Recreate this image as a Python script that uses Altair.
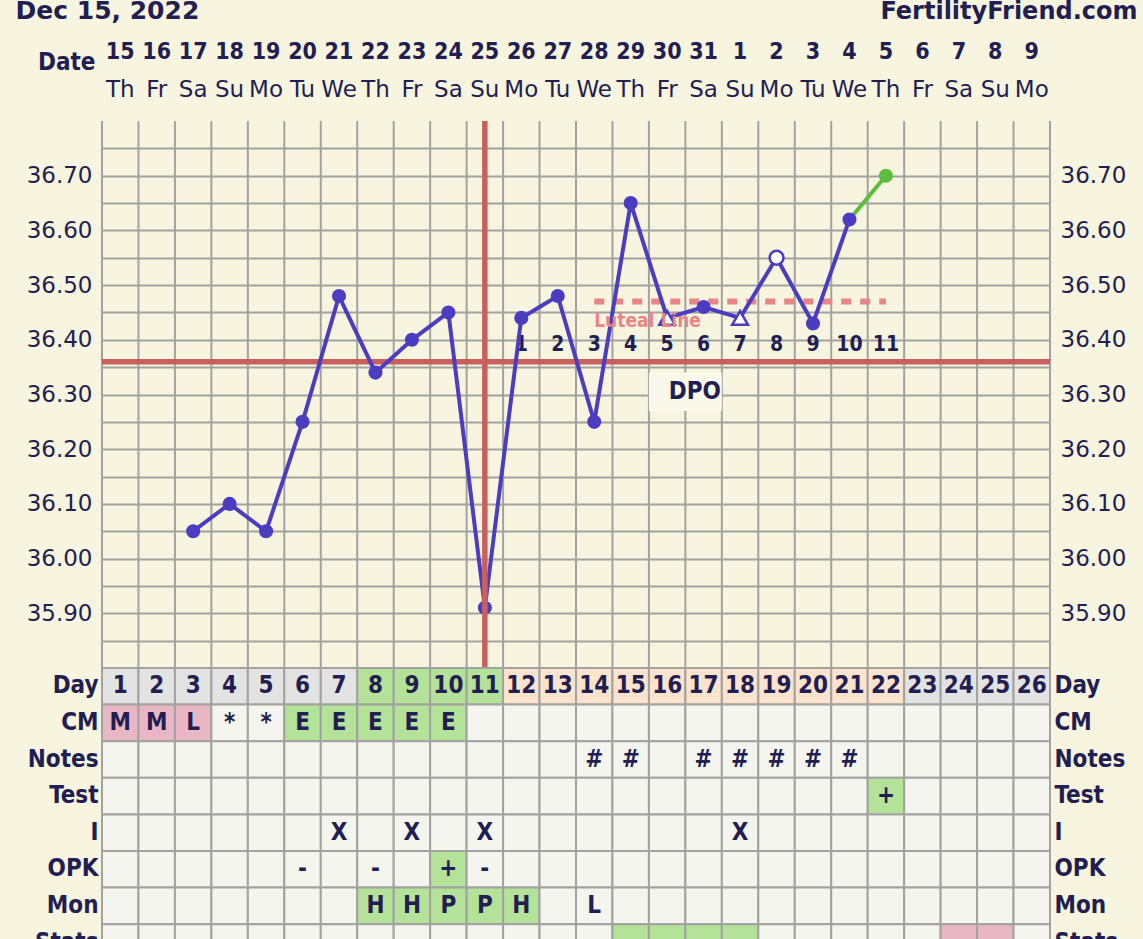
import altair as alt
import pandas as pd

# ---- palette and fonts -------------------------------------------------
NAVY = "#221E52"
BG = "#F7F5DF"
GRID = "#A2A2A0"
BLUE = "#4A3DC2"
GREEN_PT = "#5CBF3C"
RED = "#C9605E"
PINK_LINE = "#EA8585"
BOLD_FONT = "DejaVu Sans Condensed"
REG_FONT = "DejaVu Sans"

# plot area (temperature grid) size and table row height
W, H = 948, 547
ROW_H = 36.6

# ---- calendar ----------------------------------------------------------
cycle_days = list(range(1, 27))
date_numbers = [15, 16, 17, 18, 19, 20, 21, 22, 23, 24, 25, 26, 27, 28, 29,
                30, 31, 1, 2, 3, 4, 5, 6, 7, 8, 9]
weekdays = ["Th", "Fr", "Sa", "Su", "Mo", "Tu", "We", "Th", "Fr", "Sa", "Su",
            "Mo", "Tu", "We", "Th", "Fr", "Sa", "Su", "Mo", "Tu", "We", "Th",
            "Fr", "Sa", "Su", "Mo"]

# ---- temperatures ------------------------------------------------------
temp_days = list(range(3, 23))
temps = [36.05, 36.10, 36.05, 36.25, 36.48, 36.34, 36.40, 36.45, 35.91, 36.44,
         36.48, 36.25, 36.65, 36.44, 36.46, 36.44, 36.55, 36.43, 36.62, 36.70]
temp_kind = ["dot"] * 13 + ["tri", "dot", "tri", "open", "dot", "dot", "today"]

coverline = 36.36
ovulation_day = 11
luteal_level = 36.47
luteal_span = (14, 22)
dpo_days = list(range(12, 23))
dpo_numbers = list(range(1, 12))
fertile_days = [8, 9, 10, 11]

# ---- chart table -------------------------------------------------------
row_names = ["Day", "CM", "Notes", "Test", "I", "OPK", "Mon", "Stats"]
cm_days = [1, 2, 3, 4, 5, 6, 7, 8, 9, 10]
cm_codes = ["M", "M", "L", "*", "*", "E", "E", "E", "E", "E"]
notes_days = [14, 15, 17, 18, 19, 20, 21]
test_days = [22]
test_results = ["+"]
intercourse_days = [7, 9, 11, 18]
opk_days = [6, 8, 10, 11]
opk_results = ["-", "-", "+", "-"]
mon_days = [8, 9, 10, 11, 12, 14]
mon_readings = ["H", "H", "P", "P", "H", "L"]
stats_green_days = [15, 16, 17, 18]
stats_pink_days = [24, 25]

cm_fill = {"M": "pink", "L": "pink", "E": "green"}
result_fill = {"+": "green"}
mon_fill = {"H": "green", "P": "green"}

cells = []
for d in cycle_days:
    if d in fertile_days:
        phase = "green"
    elif d in dpo_days:
        phase = "peach"
    else:
        phase = "gray"
    cells.append({"day": d, "row": "Day", "fill": phase, "label": str(d)})
    cm = dict(zip(cm_days, cm_codes)).get(d, "")
    cells.append({"day": d, "row": "CM", "fill": cm_fill.get(cm, "blank"), "label": cm})
    cells.append({"day": d, "row": "Notes", "fill": "blank",
                  "label": "#" if d in notes_days else ""})
    t = dict(zip(test_days, test_results)).get(d, "")
    cells.append({"day": d, "row": "Test", "fill": result_fill.get(t, "blank"), "label": t})
    cells.append({"day": d, "row": "I", "fill": "blank",
                  "label": "X" if d in intercourse_days else ""})
    o = dict(zip(opk_days, opk_results)).get(d, "")
    cells.append({"day": d, "row": "OPK", "fill": result_fill.get(o, "blank"), "label": o})
    m = dict(zip(mon_days, mon_readings)).get(d, "")
    cells.append({"day": d, "row": "Mon", "fill": mon_fill.get(m, "blank"), "label": m})
    s = "green" if d in stats_green_days else ("pink" if d in stats_pink_days else "blank")
    cells.append({"day": d, "row": "Stats", "fill": s, "label": ""})
cells_df = pd.DataFrame(cells)

temp_df = pd.DataFrame({"day": temp_days, "temp": temps, "kind": temp_kind})
header_df = pd.DataFrame({"day": cycle_days, "date": date_numbers, "wd": weekdays})
dpo_df = pd.DataFrame({"day": dpo_days, "dpo": dpo_numbers, "cover": coverline})

# ---- scales ------------------------------------------------------------
x_scale = alt.Scale(domain=[0.5, len(cycle_days) + 0.5], nice=False, zero=False)
y_scale = alt.Scale(domain=[35.8, 36.8], nice=False, zero=False)
table_y = alt.Scale(domain=row_names, range=[H, H + ROW_H * len(row_names)],
                    paddingInner=0, paddingOuter=0)
header_y = alt.Scale(domain=["date", "wd"], range=[-88, -12],
                     paddingInner=0, paddingOuter=0)
fill_scale = alt.Scale(domain=["blank", "gray", "green", "peach", "pink"],
                       range=["#F5F5F0", "#E3E3E3", "#B3E298", "#FBE3CD", "#E9B6C6"])

grid_vals = [round(35.85 + 0.05 * i, 2) for i in range(19)]
col_edges = [d - 0.5 for d in cycle_days] + [len(cycle_days) + 0.5]
temp_label = ("abs(datum.value*10 - round(datum.value*10)) < 0.001 && "
              "datum.value > 35.86 && datum.value < 36.74 ? format(datum.value, '.2f') : ''")


def temp_axis(orient, grid):
    return alt.Axis(orient=orient, values=grid_vals, labelExpr=temp_label,
                    grid=grid, gridColor=GRID, gridWidth=2, ticks=False, tickSize=0,
                    domain=False, labelFont=REG_FONT, labelFontSize=23,
                    labelColor=NAVY, labelPadding=10, labelOverlap=False,
                    labelFlush=False, title=None)


def row_axis(orient):
    return alt.Axis(orient=orient, ticks=False, tickSize=0, domain=False,
                    labelFont=BOLD_FONT, labelFontWeight="bold", labelFontSize=24,
                    labelColor=NAVY, labelPadding=4, title=None)


# ---- temperature panel -------------------------------------------------
tbase = alt.Chart(temp_df)

# vertical day columns of the grid
col_rules = alt.Chart(pd.DataFrame({"edge": col_edges})).mark_rule(
    color=GRID, strokeWidth=2).encode(
    x=alt.X("edge:Q", scale=x_scale, axis=None))

dpo_box = alt.Chart(pd.DataFrame({"a": [15.5], "b": [17.5], "t1": [36.34], "t2": [36.27]})).mark_rect(
    color="#F9F8EA").encode(
    x=alt.X("a:Q", scale=x_scale, axis=None), x2="b:Q",
    y=alt.Y("t1:Q", scale=y_scale, axis=None), y2="t2:Q")

cover_rule = alt.Chart(pd.DataFrame({"t": [coverline]})).mark_rule(
    color=RED, strokeWidth=5.5).encode(
    y=alt.Y("t:Q", scale=y_scale, axis=temp_axis("left", True)))

luteal_rule = alt.Chart(pd.DataFrame({"a": [luteal_span[0]], "b": [luteal_span[1]],
                                      "t": [luteal_level]})).mark_rule(
    color=PINK_LINE, strokeWidth=6, strokeDash=[10, 9]).encode(
    x=alt.X("a:Q", scale=x_scale, axis=None), x2="b:Q",
    y=alt.Y("t:Q", scale=y_scale, axis=None))

dpo_text = alt.Chart(dpo_df).mark_text(
    font=BOLD_FONT, fontWeight="bold", fontSize=21, color=NAVY,
    baseline="alphabetic", dy=-11).encode(
    x=alt.X("day:Q", scale=x_scale, axis=None),
    y=alt.Y("cover:Q", scale=y_scale, axis=None),
    text="dpo:N")

dpo_label = alt.Chart(pd.DataFrame({"a": [17.5], "t": [36.305], "s": ["DPO"]})).mark_text(
    font=BOLD_FONT, fontWeight="bold", fontSize=24, color=NAVY,
    align="right", baseline="middle", dx=-1).encode(
    x=alt.X("a:Q", scale=x_scale, axis=None),
    y=alt.Y("t:Q", scale=y_scale, axis=None), text="s:N")

blue_line = tbase.transform_filter("datum.day <= 21").mark_line(
    color=BLUE, strokeWidth=4).encode(
    x=alt.X("day:Q", scale=x_scale, axis=None),
    y=alt.Y("temp:Q", scale=y_scale, axis=temp_axis("right", False)))

green_line = tbase.transform_filter("datum.day >= 21").mark_line(
    color=GREEN_PT, strokeWidth=4).encode(
    x=alt.X("day:Q", scale=x_scale, axis=None),
    y=alt.Y("temp:Q", scale=y_scale, axis=None))


def points(kind, **mark):
    return tbase.transform_filter(f"datum.kind == '{kind}'").mark_point(
        filled=True, opacity=1, **mark).encode(
        x=alt.X("day:Q", scale=x_scale, axis=None),
        y=alt.Y("temp:Q", scale=y_scale, axis=None))


dots = points("dot", shape="circle", size=200, fill=BLUE, strokeWidth=0)
today = points("today", shape="circle", size=200, fill=GREEN_PT, strokeWidth=0)
opens = points("open", shape="circle", size=190, fill="#FFFFFF", stroke=BLUE, strokeWidth=2.5)
tris = points("tri", shape="triangle-up", size=250, fill="#FFFFFF", stroke=BLUE, strokeWidth=2.5)

ovulation_rule = alt.Chart(pd.DataFrame({"d": [ovulation_day]})).mark_rule(
    color=RED, strokeWidth=5.5).encode(
    x=alt.X("d:Q", scale=x_scale, axis=None))

luteal_text = alt.Chart(pd.DataFrame({"a": [luteal_span[0]], "t": [luteal_level],
                                      "s": ["Luteal Line"]})).mark_text(
    font=BOLD_FONT, fontWeight="bold", fontSize=19, color=PINK_LINE,
    align="left", baseline="middle", dy=19).encode(
    x=alt.X("a:Q", scale=x_scale, axis=None),
    y=alt.Y("t:Q", scale=y_scale, axis=None), text="s:N")

temp_panel = alt.layer(col_rules, dpo_box, cover_rule, luteal_rule, dpo_text, dpo_label,
                       blue_line, green_line, dots, opens, tris, today,
                       ovulation_rule, luteal_text)

# ---- data table below the grid ----------------------------------------
cbase = alt.Chart(cells_df).transform_calculate(
    x0="datum.day - 0.5", x1="datum.day + 0.5")

cell_rects = cbase.mark_rect(stroke=GRID, strokeWidth=2).encode(
    x=alt.X("x0:Q", scale=x_scale, axis=None), x2="x1:Q",
    y=alt.Y("row:N", scale=table_y, axis=row_axis("left")),
    fill=alt.Fill("fill:N", scale=fill_scale, legend=None))

cell_text = cbase.mark_text(font=BOLD_FONT, fontWeight="bold", fontSize=24,
                            color=NAVY, baseline="middle").encode(
    x=alt.X("day:Q", scale=x_scale, axis=None),
    y=alt.Y("row:N", scale=table_y, axis=row_axis("right")),
    text="label:N")

table_panel = alt.layer(cell_rects, cell_text)

# ---- date header -------------------------------------------------------
hbase = alt.Chart(header_df)

date_text = hbase.transform_calculate(r="'date'").mark_text(
    font=BOLD_FONT, fontWeight="bold", fontSize=23, color=NAVY, baseline="middle").encode(
    x=alt.X("day:Q", scale=x_scale, axis=None),
    y=alt.Y("r:N", scale=header_y,
            axis=alt.Axis(orient="left", ticks=False, tickSize=0, domain=False,
                          labelExpr="datum.value == 'date' ? 'Date' : ''",
                          labelFont=BOLD_FONT, labelFontWeight="bold",
                          labelFontSize=24, labelColor=NAVY, labelPadding=7,
                          labelOffset=10,
                          title="Dec 15, 2022", titleAngle=0, titleAlign="left",
                          titleBaseline="alphabetic", titleX=-87, titleY=-103,
                          titleFont=REG_FONT, titleFontWeight="bold",
                          titleFontSize=25, titleColor=NAVY)),
    text="date:N")

weekday_text = hbase.transform_calculate(r="'wd'").mark_text(
    font=REG_FONT, fontSize=23, color=NAVY, baseline="middle").encode(
    x=alt.X("day:Q", scale=x_scale, axis=None),
    y=alt.Y("r:N", scale=header_y,
            axis=alt.Axis(orient="right", ticks=False, tickSize=0, domain=False,
                          labels=False, title="FertilityFriend.com", titleAngle=0,
                          titleAlign="right", titleBaseline="alphabetic",
                          titleX=87, titleY=-103, titleFont=REG_FONT,
                          titleFontWeight="bold", titleFontSize=24,
                          titleColor=NAVY)),
    text="wd:N")

header_panel = alt.layer(date_text, weekday_text)

chart = alt.layer(temp_panel, table_panel, header_panel).resolve_scale(
    y="independent").properties(
    width=W, height=H,
    autosize=alt.AutoSizeParams(type="none"),
    padding={"left": 102, "top": 121, "right": 1143 - 102 - W, "bottom": 939 - 121 - H},
    background=BG,
).configure_view(strokeWidth=0)

chart.save("out.html", embed_options={"renderer": "svg", "actions": False})
